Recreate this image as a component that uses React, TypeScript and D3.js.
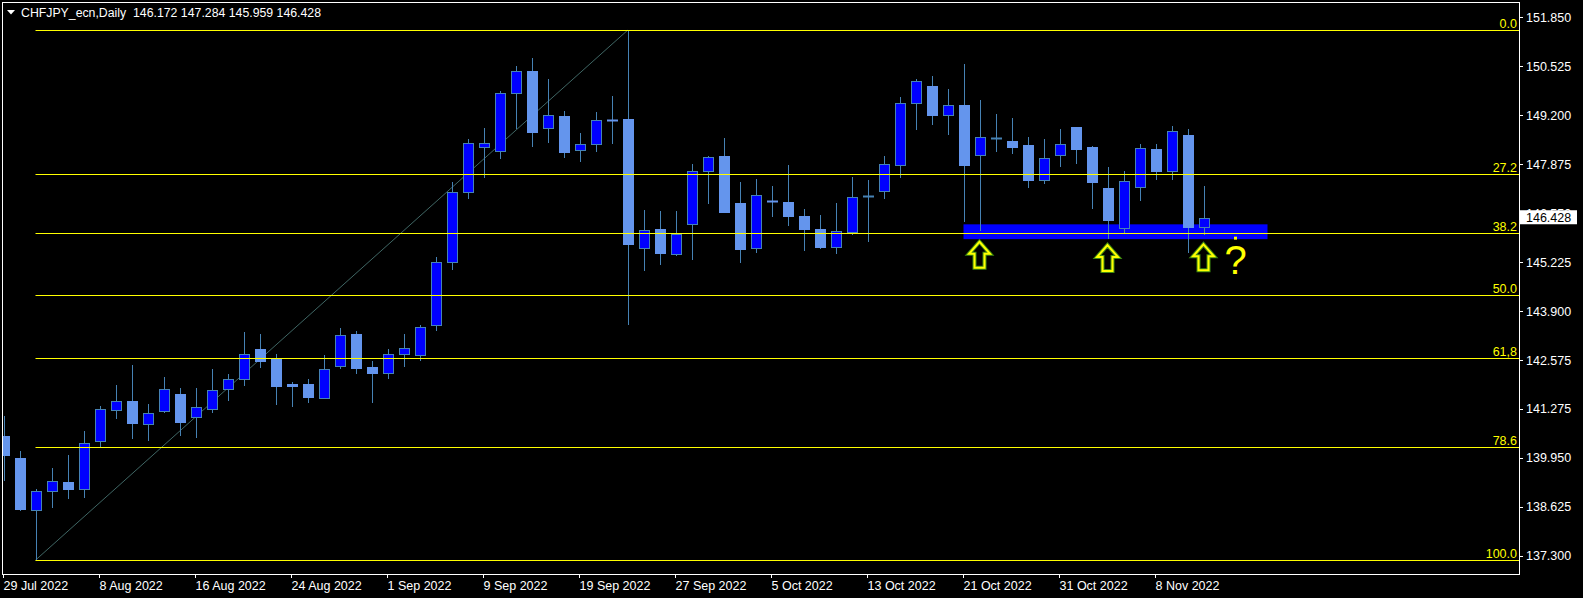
import React from 'react';
import * as d3 from 'd3';

const opens = [140.52, 139.93, 138.54, 139.04, 139.30, 139.09, 140.40, 141.24, 141.49, 140.86,
  141.21, 141.68, 141.05, 141.27, 141.81, 142.08, 142.87, 142.60, 141.93, 141.93,
  141.57, 142.43, 143.28, 142.41, 142.24, 142.75, 142.73, 143.54, 145.24, 147.11,
  148.33, 148.22, 149.81, 150.39, 148.84, 149.17, 148.25, 148.41, 149.07, 149.09,
  145.62, 146.12, 145.46, 146.27, 147.68, 148.09, 146.82, 145.62, 146.87, 146.85,
  146.47, 146.12, 145.65, 146.04, 147.01, 147.16, 147.84, 149.52, 149.98, 149.19,
  149.47, 148.11, 148.58, 148.50, 148.39, 147.46, 148.11, 148.88, 148.33, 147.23,
  146.16, 147.27, 148.28, 147.68, 148.66, 146.172];
const highs = [141.06, 140.14, 139.11, 139.68, 140.01, 140.68, 141.35, 141.90, 142.44, 141.39,
  142.14, 141.84, 141.84, 142.33, 142.20, 143.33, 143.28, 142.74, 141.98, 142.06,
  142.71, 143.44, 143.36, 142.55, 142.87, 143.28, 143.54, 145.36, 147.39, 148.55,
  148.86, 149.85, 150.53, 150.74, 150.17, 149.31, 148.71, 149.28, 149.71, 151.49,
  146.63, 146.60, 146.60, 147.88, 148.09, 148.58, 147.39, 147.47, 147.28, 147.85,
  146.66, 146.50, 146.82, 147.52, 147.44, 148.09, 149.69, 150.17, 150.25, 149.90,
  150.58, 149.61, 149.23, 149.12, 148.60, 148.55, 148.82, 148.89, 148.36, 147.79,
  147.69, 148.42, 148.42, 148.90, 148.82, 147.284];
const lows = [139.31, 138.50, 137.18, 138.60, 138.82, 138.87, 140.22, 140.98, 140.45, 140.39,
  141.15, 140.53, 140.47, 141.15, 141.47, 141.88, 142.37, 141.36, 141.31, 141.42,
  141.56, 142.33, 142.20, 141.42, 142.07, 142.39, 142.55, 143.37, 145.02, 146.94,
  147.50, 148.02, 148.82, 148.34, 148.45, 148.05, 147.93, 148.21, 148.42, 143.54,
  144.99, 145.15, 145.40, 145.30, 146.80, 146.56, 145.21, 145.48, 146.45, 146.21,
  145.53, 145.58, 145.45, 145.96, 145.77, 146.94, 147.50, 148.79, 148.94, 148.67,
  146.31, 146.07, 148.21, 148.15, 147.23, 147.34, 147.80, 147.88, 146.67, 145.86,
  146.02, 146.88, 147.45, 147.45, 145.48, 145.959];
const closes = [140.01, 138.55, 139.05, 139.32, 139.09, 140.35, 141.27, 141.49, 140.88, 141.16,
  141.81, 140.91, 141.32, 141.78, 142.08, 142.76, 142.57, 141.88, 141.88, 141.58,
  142.35, 143.25, 142.37, 142.23, 142.76, 142.90, 143.49, 145.24, 147.11, 148.46,
  148.46, 149.79, 150.38, 148.75, 149.19, 148.21, 148.43, 149.06, 149.06, 145.72,
  146.11, 145.48, 145.98, 147.68, 148.08, 146.59, 145.59, 147.03, 146.86, 146.48,
  146.13, 145.64, 146.08, 147.00, 147.02, 147.89, 149.54, 150.11, 149.21, 149.46,
  147.86, 148.62, 148.59, 148.34, 147.45, 148.03, 148.43, 148.29, 147.40, 146.37,
  147.41, 148.30, 147.69, 148.77, 146.18, 146.428];

const dateTickBars = [0, 6, 12, 18, 24, 30, 36, 42, 48, 54, 60, 66, 72];
const dateTickLabels = ['29 Jul 2022', '8 Aug 2022', '16 Aug 2022', '24 Aug 2022', '1 Sep 2022', '9 Sep 2022',
  '19 Sep 2022', '27 Sep 2022', '5 Oct 2022', '13 Oct 2022', '21 Oct 2022', '31 Oct 2022', '8 Nov 2022'];
const priceTicks = [151.85, 150.525, 149.2, 147.875, 146.55, 145.225, 143.9, 142.575, 141.275, 139.95, 138.625, 137.3];

const fibHigh = 151.49, fibLow = 137.18, fibHighBar = 39, fibLowBar = 2;
const fibLevels = [0, 27.2, 38.2, 50, 61.8, 78.6, 100];
const fibLabels = ['0.0', '27.2', '38.2', '50.0', '61,8', '78.6', '100.0'];

const zoneTop = 146.25, zoneBottom = 145.85, zoneStartBar = 60, zoneEndBar = 79;
const arrowBars = [61, 69, 75];
const arrowPrices = [145.78, 145.69, 145.71];
const questionBar = 77, questionPrice = 145.71;
const lastPrice = 146.428;
const title = 'CHFJPY_ecn,Daily  146.172 147.284 145.959 146.428';

const W = 1583, H = 598;
const left = 2, top = 2, right = 1519, bottom = 574;
const font = "'Liberation Sans', Arial, sans-serif";
const upFill = '#0000FF', downFill = '#6495ED', edge = '#4682B4';

export default function App() {
  const x = d3.scaleLinear().domain([0, 1]).range([3.5, 19.5]);
  const y = d3.scaleLinear().domain([137.3, 151.85]).range([555.7, 17]);
  const fibY = (lvl: number) => y(fibHigh - (lvl / 100) * (fibHigh - fibLow));

  const bars = opens.map((o, i) => ({ o, h: highs[i], l: lows[i], c: closes[i], i }));

  return (
    <svg width={W} height={H} style={{ position: 'absolute', left: 0, top: 0, background: '#000' }}>
      <rect width={W} height={H} fill="#000" />
      <defs>
        <clipPath id="plot">
          <rect x={left + 1} y={top + 1} width={right - left - 1} height={bottom - top - 1} />
        </clipPath>
      </defs>

      <g clipPath="url(#plot)">
        <rect x={x(zoneStartBar)} y={y(zoneTop)} width={x(zoneEndBar) - x(zoneStartBar)}
          height={y(zoneBottom) - y(zoneTop)} fill="#0000FF" />

        <line x1={x(fibLowBar)} y1={y(fibLow)} x2={x(fibHighBar)} y2={y(fibHigh)}
          stroke="#3f6664" strokeWidth={1} />

        {bars.map(b => {
          const cx = Math.round(x(b.i)) + 0.5;
          const up = b.c >= b.o;
          const yt = y(Math.max(b.o, b.c));
          const yb = y(Math.min(b.o, b.c));
          const doji = Math.abs(b.c - b.o) < 0.02;
          return (
            <g key={b.i}>
              <line x1={cx} x2={cx} y1={Math.round(y(b.h))} y2={Math.round(y(b.l))} stroke={edge} />
              {doji ? (
                <line x1={cx - 5.5} x2={cx + 5.5} y1={Math.round(yt) + 0.5} y2={Math.round(yt) + 0.5}
                  stroke={up ? edge : downFill} strokeWidth={2} />
              ) : (
                <rect x={cx - 5} y={Math.round(yt) + 0.5} width={10}
                  height={Math.max(1, Math.round(yb) - Math.round(yt))}
                  fill={up ? upFill : downFill} stroke={up ? edge : downFill} />
              )}
            </g>
          );
        })}

        {fibLevels.map((lvl, k) => {
          const ly = Math.round(fibY(lvl)) + 0.5;
          return (
            <g key={lvl}>
              <line x1={x(fibLowBar)} x2={right} y1={ly} y2={ly} stroke="#FFFF00" />
              <text x={right - 2} y={ly - 2.5} textAnchor="end" fill="#FFFF00"
                fontFamily={font} fontSize={12.5}>{fibLabels[k]}</text>
            </g>
          );
        })}

        {arrowBars.map((bi, k) => {
          const cx = x(bi);
          const t = y(arrowPrices[k]);
          const d = `M${cx},${t} L${cx + 10.5},${t + 12} L${cx + 5},${t + 12} L${cx + 5},${t + 26} ` +
            `L${cx - 5},${t + 26} L${cx - 5},${t + 12} L${cx - 10.5},${t + 12} Z`;
          return (
            <g key={bi}>
              <path d={d} fill="none" stroke="#3f8a10" strokeWidth={4} strokeLinejoin="miter" />
              <path d={d} fill="none" stroke="#FFFF00" strokeWidth={2} strokeLinejoin="miter" />
            </g>
          );
        })}

        <rect x={x(questionBar) - 1.5} y={y(zoneBottom) - 2.5} width={3} height={3} fill="#FFFF00" />
        <text x={x(questionBar)} y={y(questionPrice) + 29.5} textAnchor="middle" fill="#FFFF00"
          fontFamily={font} fontSize={40}>?</text>
      </g>

      <rect x={left + 0.5} y={top + 0.5} width={right - left} height={bottom - top}
        fill="none" stroke="#fff" />

      {priceTicks.map(p => (
        <g key={p}>
          <line x1={right} x2={right + 4} y1={Math.round(y(p)) + 0.5} y2={Math.round(y(p)) + 0.5} stroke="#fff" />
          <text x={1526} y={y(p) + 4.5} fill="#fff" fontFamily={font} fontSize={12.5}>{p.toFixed(3)}</text>
        </g>
      ))}

      <rect x={1520} y={y(lastPrice) - 7.5} width={57} height={14} fill="#fff" />
      <text x={1526} y={y(lastPrice) + 4.5} fill="#000" fontFamily={font} fontSize={12.5}>{lastPrice.toFixed(3)}</text>

      {dateTickBars.map((bi, k) => {
        const tx = Math.round(x(bi)) - 0.5;
        return (
          <g key={bi}>
            <line x1={tx} x2={tx} y1={bottom} y2={bottom + 4} stroke="#fff" />
            <text x={tx} y={590} fill="#fff" fontFamily={font} fontSize={12.5}>{dateTickLabels[k]}</text>
          </g>
        );
      })}

      <path d="M7,10 L15,10 L11,14.5 Z" fill="#fff" />
      <text x={21} y={17} fill="#fff" fontFamily={font} fontSize={12.5} xmlSpace="preserve"
        textLength={300} lengthAdjust="spacingAndGlyphs"
        style={{ whiteSpace: 'pre' }}>{title}</text>
    </svg>
  );
}
